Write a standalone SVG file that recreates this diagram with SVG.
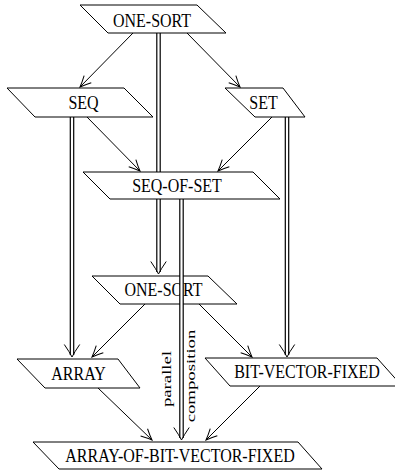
<svg xmlns="http://www.w3.org/2000/svg" width="395" height="471" viewBox="0 0 395 471">
  <style>
    .node polygon { fill: #fff; stroke: #000; stroke-width: 1; }
    .node text, .label { font-family: "Liberation Serif", "Times New Roman", serif; font-size: 16px; text-anchor: middle; fill: #000; }
    .label { font-size: 13.5px; }
    .edge { fill: none; stroke: #000; stroke-width: 1; marker-end: url(#arr); }
    .dbl-out { fill: none; stroke: #000; stroke-width: 4.6; }
    .dbl-in { fill: none; stroke: #fff; stroke-width: 2.2; marker-end: url(#dblhead); }
  </style>
  <defs>
    <marker id="arr" markerUnits="userSpaceOnUse" viewBox="-13 -7 15 14" refX="0" refY="0" markerWidth="15" markerHeight="14" orient="auto" overflow="visible">
      <path d="M-11,-5 Q-4.5,-1.6 0,0 Q-4.5,1.6 -11,5" fill="none" stroke="#000" stroke-width="1"/>
    </marker>
    <marker id="dblhead" markerUnits="userSpaceOnUse" viewBox="-14 -9 18 18" refX="0" refY="0" markerWidth="18" markerHeight="18" orient="auto" overflow="visible">
      <path d="M-10.5,-7.7 Q-3,-2.5 2,0 Q-3,2.5 -10.5,7.7" fill="none" stroke="#000" stroke-width="1"/>
    </marker>
  </defs>

  <!-- lower ONE-SORT sits beneath the connectors: the parallel composition line crosses it -->
  <g id="one-sort-lower" class="node">
    <polygon points="92,276 208,276 237,304 120,304"/>
    <text transform="translate(163.5,296) scale(1,1.16)">ONE-SORT</text>
  </g>

  <g id="connectors">
    <!-- single arrows -->
    <line class="edge" x1="133" y1="33" x2="80" y2="87"/>
    <line class="edge" x1="187" y1="33" x2="240" y2="87"/>
    <line class="edge" x1="87" y1="117" x2="140" y2="171"/>
    <line class="edge" x1="272" y1="117" x2="218" y2="171"/>
    <line class="edge" x1="145" y1="304" x2="92" y2="357"/>
    <line class="edge" x1="199" y1="304" x2="252" y2="357"/>
    <line class="edge" x1="98" y1="388" x2="152" y2="440"/>
    <line class="edge" x1="260" y1="386" x2="206" y2="440"/>

    <!-- double arrows -->
    <line class="dbl-out" x1="158.5" y1="33" x2="158.5" y2="272"/>
    <line class="dbl-in" x1="158.5" y1="32" x2="158.5" y2="272"/>
    <line class="dbl-out" x1="72" y1="117" x2="72" y2="355"/>
    <line class="dbl-in" x1="72" y1="116" x2="72" y2="355"/>
    <line class="dbl-out" x1="287" y1="117" x2="287" y2="355"/>
    <line class="dbl-in" x1="287" y1="116" x2="287" y2="355"/>
    <line class="dbl-out" x1="181.5" y1="199" x2="181.5" y2="438"/>
    <line class="dbl-in" x1="181.5" y1="198" x2="181.5" y2="438"/>

    <text class="label" transform="translate(170.5,379) rotate(-90) scale(1.39,1)">parallel</text>
    <text class="label" transform="translate(194.5,376) rotate(-90) scale(1.39,1)">composition</text>
  </g>

  <g id="one-sort-top" class="node">
    <polygon points="80,5 197,5 226,33 108,33"/>
    <text transform="translate(152,27) scale(1,1.16)">ONE-SORT</text>
  </g>
  <g id="seq" class="node">
    <polygon points="7,88 124,88 153,117 35,117"/>
    <text transform="translate(83.5,108.5) scale(1,1.16)">SEQ</text>
  </g>
  <g id="set" class="node">
    <polygon points="225,88 283,88 305,117 255,117"/>
    <text transform="translate(263.5,108.5) scale(1,1.16)">SET</text>
  </g>
  <g id="seq-of-set" class="node">
    <polygon points="83,172 253,172 280,199 110,199"/>
    <text transform="translate(177,191.5) scale(1,1.16)">SEQ-OF-SET</text>
  </g>
  <g id="array" class="node">
    <polygon points="17,359 118,359 140,388 45,388"/>
    <text transform="translate(78.5,379.5) scale(1,1.16)">ARRAY</text>
  </g>
  <g id="bit-vector-fixed" class="node">
    <polygon points="205,358 377,358 402,386 230,386"/>
    <text transform="translate(307,378) scale(1,1.16)">BIT-VECTOR-FIXED</text>
  </g>
  <g id="array-of-bit-vector-fixed" class="node">
    <polygon points="33,442 298,442 322,469 59,469"/>
    <text transform="translate(180,461.5) scale(1,1.16)">ARRAY-OF-BIT-VECTOR-FIXED</text>
  </g>
</svg>
